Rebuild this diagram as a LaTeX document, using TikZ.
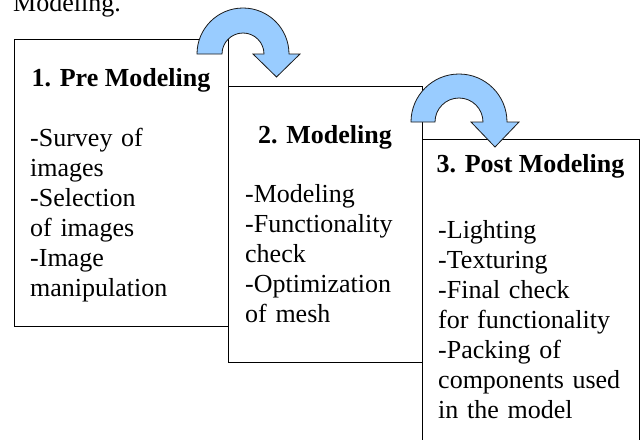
\documentclass[tikz,border=0pt]{standalone}
\usepackage{fontspec}
\setmainfont{Liberation Serif}
\definecolor{arrowblue}{HTML}{99CCFF}
\definecolor{edgegrey}{HTML}{1A1A1A}
\tikzset{
  stagebox/.style={draw=black, line width=1pt, fill=white, inner sep=0pt, anchor=north west},
  stagetitle/.style={font={\fontsize{26}{30}\selectfont\bfseries}, anchor=base, inner sep=0pt},
  stagebody/.style={font={\fontsize{26}{30}\selectfont}, anchor=base west, inner sep=0pt, text width=205pt, align=left},
  plaintext/.style={font={\fontsize{26}{30}\selectfont}, anchor=base west, inner sep=0pt},
  turnarrow/.style={fill=arrowblue, draw=edgegrey, line width=0.8pt, line join=miter}
}
\begin{document}
\begin{tikzpicture}[x=1pt, y=-1pt]
\useasboundingbox (0,0) rectangle (642,439);
\node[plaintext] (caption) at (13,11) {Modeling.};
% boxes
\node[stagebox, minimum width=214pt, minimum height=287pt] (b1) at (14,39) {};
\node[stagebox, minimum width=194pt, minimum height=276pt] (b2) at (228,86) {};
\node[stagebox, minimum width=217pt, minimum height=320pt] (b3) at (422,139) {};
% titles
\node[stagetitle] (t1) at (121,86) {1. Pre Modeling};
\node[stagetitle] (t2) at (325,143) {2. Modeling};
\node[stagetitle] (t3) at (530.5,172) {3. Post Modeling};
% bodies
\node[stagebody] (d1) at (30,146) {-Survey of\\images\\-Selection\\of images\\-Image\\manipulation};
\node[stagebody] (d2) at (245,202) {-Modeling\\-Functionality\\check\\-Optimization\\of mesh};
\node[stagebody] (d3) at (438,238) {-Lighting\\-Texturing\\-Final check\\for functionality\\-Packing of\\components used\\in the model};
% turn arrows (shifts and radii are page dimensions: positive yshift is up)
\coordinate (c1) at (243,54);
\coordinate (c2) at (459,122);
\draw[turnarrow] ([xshift=-46pt]c1) arc[start angle=180, end angle=0, radius=46pt]
  -- ([xshift=57pt]c1) -- ([xshift=33.5pt, yshift=-23pt]c1) -- ([xshift=10pt]c1)
  -- ([xshift=21pt]c1) arc[start angle=0, end angle=180, radius=21pt] -- cycle;
\draw[turnarrow] ([xshift=-48pt]c2) arc[start angle=180, end angle=0, radius=48pt]
  -- ([xshift=60pt]c2) -- ([xshift=36pt, yshift=-25pt]c2) -- ([xshift=12pt]c2)
  -- ([xshift=24pt]c2) arc[start angle=0, end angle=180, radius=24pt] -- cycle;
\end{tikzpicture}
\end{document}
